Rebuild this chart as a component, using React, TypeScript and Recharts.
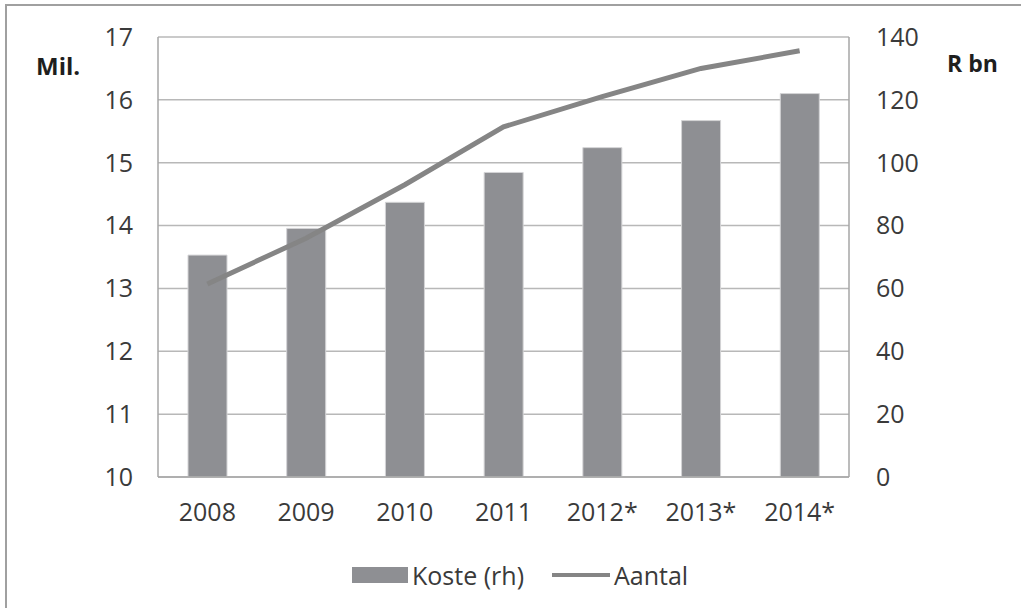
import React from 'react';
import { ComposedChart, Bar, Line, XAxis, YAxis, CartesianGrid } from 'recharts';

const years = ['2008', '2009', '2010', '2011', '2012*', '2013*', '2014*'];
const koste = [70.6, 79.1, 87.4, 96.9, 104.8, 113.4, 122.0];
const aantal = [13.07, 13.8, 14.65, 15.57, 16.05, 16.5, 16.78];
const leftTicks = [10, 11, 12, 13, 14, 15, 16, 17];
const rightTicks = [0, 20, 40, 60, 80, 100, 120, 140];
const boundaryTicks = [0, 1, 2, 3, 4, 5, 6, 7];
const seriesNames = { koste: 'Koste (rh)', aantal: 'Aantal' };

const FONT = '"Open Sans", sans-serif';
const BAR_COLOR = '#8e8f93';
const LINE_COLOR = '#858585';
const AXIS_COLOR = '#a6a6a6';
const TEXT_COLOR = '#3a3a3a';

const tickStyle = { fontFamily: FONT, fontSize: 25, fill: TEXT_COLOR };

const App: React.FC = () => {
  const data = years.map((year, i) => ({
    year,
    koste: koste[i],
    aantal: aantal[i],
  }));

  return (
    <div style={{ position: 'absolute', left: 0, top: 0, width: 1021, height: 608, background: '#fff' }}>
      {/* frame, only top and left edges are visible in the crop */}
      <div
        style={{
          position: 'absolute',
          left: 5,
          top: 4,
          width: 1016,
          height: 604,
          borderTop: '2px solid #a0a0a0',
          borderLeft: '2px solid #a0a0a0',
          boxSizing: 'border-box',
        }}
      />
      <ComposedChart
        width={1021}
        height={608}
        data={data}
        margin={{ top: 37, right: 0, left: 0, bottom: 70 }}
        style={{ position: 'absolute', left: 0, top: 0 }}
      >
        <CartesianGrid xAxisId="a" yAxisId="left" vertical={false} stroke="#b8b8b8" strokeWidth={1.5} />
        {/* category labels */}
        <XAxis
          xAxisId="b"
          dataKey="year"
          height={60}
          axisLine={false}
          tickLine={false}
          tickSize={0}
          tickMargin={25}
          tick={tickStyle}
          interval={0}
        />
        {/* axis line + tick marks between categories */}
        <XAxis
          xAxisId="a"
          type="number"
          domain={[0, 7]}
          ticks={boundaryTicks}
          tick={false}
          tickSize={9}
          height={1}
          axisLine={{ stroke: AXIS_COLOR, strokeWidth: 1.5 }}
          tickLine={{ stroke: AXIS_COLOR, strokeWidth: 1.5 }}
        />
        <YAxis
          yAxisId="left"
          orientation="left"
          width={158}
          domain={[10, 17]}
          ticks={leftTicks}
          interval={0}
          axisLine={{ stroke: AXIS_COLOR, strokeWidth: 1.5 }}
          tickLine={false}
          tickSize={0}
          tickMargin={25}
          tick={tickStyle}
        />
        <YAxis
          yAxisId="right"
          orientation="right"
          width={172}
          domain={[0, 140]}
          ticks={rightTicks}
          interval={0}
          axisLine={{ stroke: AXIS_COLOR, strokeWidth: 1.5 }}
          tickLine={false}
          tickSize={0}
          tickMargin={27}
          tick={{ ...tickStyle, textAnchor: 'start' }}
        />
        <Bar
          xAxisId="b"
          yAxisId="right"
          dataKey="koste"
          name={seriesNames.koste}
          fill={BAR_COLOR}
          stroke="#d4d4d6"
          strokeWidth={1}
          barSize={39}
          isAnimationActive={false}
        />
        <Line
          xAxisId="b"
          yAxisId="left"
          type="linear"
          dataKey="aantal"
          name={seriesNames.aantal}
          stroke={LINE_COLOR}
          strokeWidth={5}
          dot={false}
          activeDot={false}
          isAnimationActive={false}
        />
      </ComposedChart>

      <div style={{ position: 'absolute', left: 36, top: 49, fontFamily: FONT, fontWeight: 700, fontSize: 24, color: '#1e1e1e' }}>
        Mil.
      </div>
      <div style={{ position: 'absolute', left: 947, top: 47, fontFamily: FONT, fontWeight: 700, fontSize: 23, color: '#1e1e1e' }}>
        R bn
      </div>

      <div
        style={{
          position: 'absolute',
          left: 352,
          top: 557,
          height: 36,
          display: 'flex',
          alignItems: 'center',
          fontFamily: FONT,
          fontSize: 25,
          color: TEXT_COLOR,
          whiteSpace: 'nowrap',
        }}
      >
        <span style={{ display: 'inline-block', width: 56, height: 16, background: BAR_COLOR, marginRight: 4 }} />
        <span style={{ marginRight: 28 }}>{seriesNames.koste}</span>
        <span style={{ display: 'inline-block', width: 58, height: 4, background: LINE_COLOR, marginRight: 4 }} />
        <span>{seriesNames.aantal}</span>
      </div>
    </div>
  );
};

export default App;
